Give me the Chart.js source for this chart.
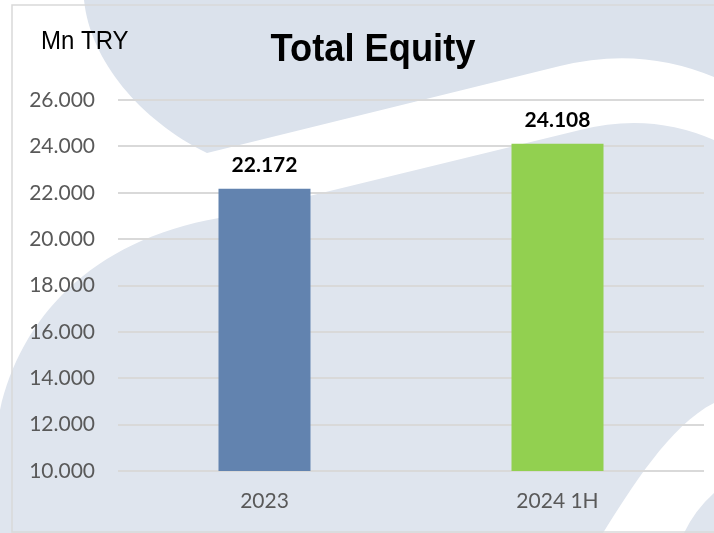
<!DOCTYPE html>
<html>
<head>
<meta charset="utf-8">
<script src="https://cdn.jsdelivr.net/npm/chart.js@4"></script>
<style>
html,body{margin:0;padding:0;background:#fff;}
#wrap{width:714px;height:533px;position:relative;}
</style>
</head>
<body>
<div id="wrap"><canvas id="c" width="714" height="533"></canvas></div>
<script>
const categories = ['2023', '2024 1H'];
const equityValues = [22172, 24108];
const barColors = ['#6283AF', '#92D050'];
const yMin = 10000;
const yMax = 26000;
const yStep = 2000;
const chartTitle = 'Total Equity';
const unitLabel = 'Mn TRY';

function fmt(v) {
  return String(Math.round(v)).replace(/\B(?=(\d{3})+(?!\d))/g, '.');
}

const backgroundPlugin = {
  id: 'bg',
  beforeDraw(chart) {
    const ctx = chart.ctx;
    const W = chart.width, H = chart.height;
    ctx.save();
    ctx.fillStyle = '#ffffff';
    ctx.fillRect(0, 0, W, H);
    // top blob
    ctx.fillStyle = '#dbe2ec';
    ctx.beginPath();
    ctx.moveTo(84, 0);
    ctx.bezierCurveTo(90, 60, 140, 120, 207, 153);
    ctx.lineTo(560, 66);
    ctx.quadraticCurveTo(640, 46, W, 77);
    ctx.lineTo(W, 0);
    ctx.closePath();
    ctx.fill();
    // lower region
    ctx.fillStyle = '#dfe5ee';
    ctx.beginPath();
    ctx.moveTo(0, 410);
    ctx.bezierCurveTo(20, 320, 90, 240, 219, 218);
    ctx.lineTo(580, 130);
    ctx.quadraticCurveTo(650, 112, W, 140);
    ctx.lineTo(W, H);
    ctx.lineTo(0, H);
    ctx.closePath();
    ctx.fill();
    // white swoosh bottom right
    ctx.fillStyle = '#ffffff';
    ctx.beginPath();
    ctx.moveTo(603, H);
    ctx.bezierCurveTo(630, 490, 670, 425, W, 403);
    ctx.lineTo(W, 493);
    ctx.quadraticCurveTo(695, 510, 684, H);
    ctx.closePath();
    ctx.fill();
    // frame
    ctx.strokeStyle = '#d9d9d9';
    ctx.lineWidth = 1.5;
    ctx.strokeRect(12, 5, W, 527);
    ctx.restore();
  },
  afterDraw(chart) {
    const ctx = chart.ctx;
    ctx.save();
    ctx.fillStyle = '#000000';
    ctx.textBaseline = 'alphabetic';
    ctx.save();
    ctx.translate(373, 61);
    ctx.scale(0.93, 1);
    ctx.font = 'bold 39px "Liberation Sans", Arial, sans-serif';
    ctx.textAlign = 'center';
    ctx.fillText(chartTitle, 0, 0);
    ctx.restore();
    ctx.save();
    ctx.translate(41, 49);
    ctx.scale(0.96, 1);
    ctx.font = '25px "Liberation Sans", Arial, sans-serif';
    ctx.textAlign = 'left';
    ctx.fillText(unitLabel, 0, 0);
    ctx.restore();
    // data labels
    const meta = chart.getDatasetMeta(0);
    ctx.font = 'bold 21px Lato, "Open Sans", sans-serif';
    ctx.textAlign = 'center';
    meta.data.forEach((bar, i) => {
      ctx.fillText(fmt(equityValues[i]), bar.x, bar.y - 17);
    });
    ctx.restore();
  }
};

new Chart(document.getElementById('c'), {
  type: 'bar',
  data: {
    labels: categories,
    datasets: [{
      data: equityValues,
      backgroundColor: barColors,
      borderWidth: 0,
      barPercentage: 0.628,
      categoryPercentage: 0.5
    }]
  },
  options: {
    responsive: false,
    animation: false,
    layout: { padding: { left: 0, right: 10, top: 100, bottom: 0 } },
    plugins: {
      legend: { display: false },
      title: { display: false },
      tooltip: { enabled: false }
    },
    scales: {
      x: {
        grid: { display: false, drawTicks: false },
        border: { display: false },
        ticks: {
          color: '#595959',
          font: { family: 'Lato', size: 21 },
          padding: 18
        },
        afterFit(scale) { scale.height = 62; }
      },
      y: {
        min: yMin,
        max: yMax,
        grid: { color: '#d9d9d9', lineWidth: 2, drawTicks: false },
        border: { display: false },
        ticks: {
          stepSize: yStep,
          color: '#595959',
          font: { family: 'Lato', size: 21 },
          padding: 23,
          callback: (v) => fmt(v)
        },
        afterFit(scale) { scale.width = 118; }
      }
    }
  },
  plugins: [backgroundPlugin]
});
</script>
</body>
</html>
